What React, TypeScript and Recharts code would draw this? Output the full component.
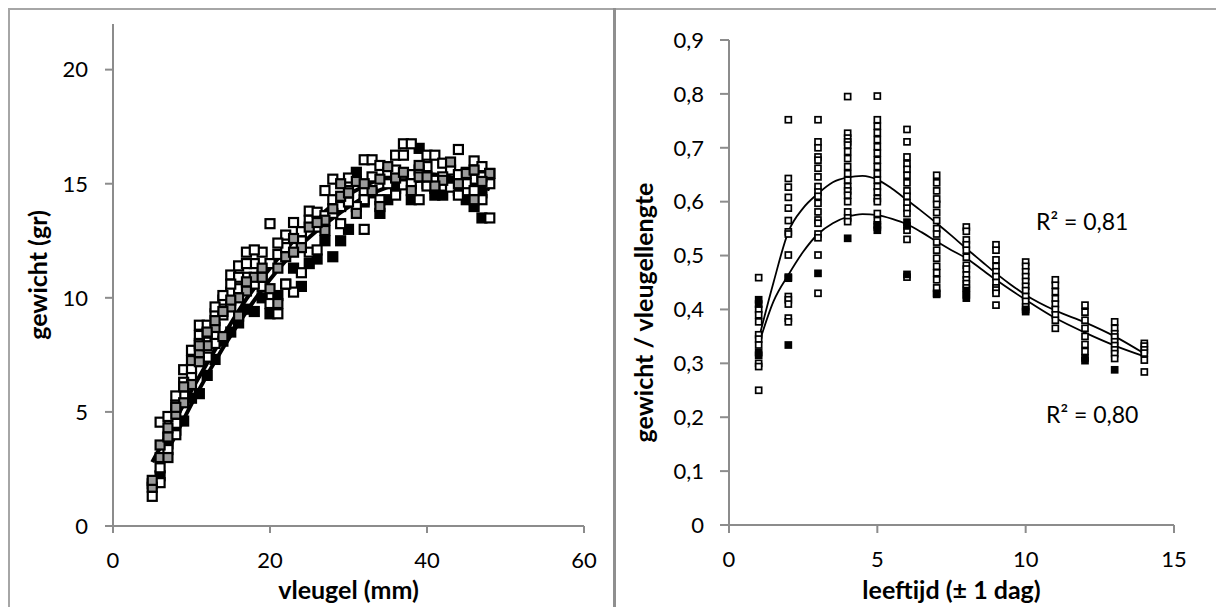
import { ComposedChart, Scatter, Line, XAxis, YAxis, Label } from "recharts";

const FONT = "Lato, 'Open Sans', sans-serif";
const AXIS_GREY = "#8c8c8c";

// ---- left panel: weight (g) against wing length (mm) ----
const wingOpen: [number, number][] = [
  [5, 1.3], [6, 1.9], [6, 2.55], [6, 4.55], [7, 3.35], [7, 3.85], [8, 4.5], [8, 5.3],
  [9, 6.05], [9, 6.85], [10, 6.55], [10, 7.7], [11, 8.35], [11, 8.8], [12, 8.8], [12, 8.45],
  [13, 9.3], [14, 9.25], [15, 10.25], [15, 11.0], [16, 10.4], [17, 10.9], [17, 12.0], [18, 11.5],
  [19, 12.0], [20, 9.75], [20, 13.25], [21, 9.3], [21, 11.9], [22, 12.75], [23, 10.25], [23, 13.3],
  [24, 11.1], [24, 12.5], [25, 13.8], [25, 13.4], [25, 12.0], [26, 13.75], [26, 12.1], [27, 14.7],
  [28, 14.3], [28, 15.2], [29, 13.25], [30, 15.25], [30, 14.7], [32, 16.05], [32, 14.7], [32, 14.3],
  [32, 13.0], [33, 16.05], [34, 15.8], [34, 14.3], [36, 16.25], [36, 14.5], [37, 16.75], [37, 16.25],
  [37, 14.95], [38, 16.75], [39, 14.3], [40, 16.25], [40, 15.75], [41, 15.15], [41, 16.25], [43, 14.85],
  [44, 16.5], [44, 14.5], [46, 16.0], [47, 15.75], [47, 14.3], [48, 15.0], [48, 13.5], [48, 15.45],
  [45, 15.5], [42, 15.9], [35, 15.5], [31, 14.0], [27, 13.6], [19, 10.5], [18, 12.1], [16, 11.4],
  [14, 9.9], [13, 8.0], [22, 10.6], [20, 11.5], [29, 14.0], [38, 15.4], [43, 15.6], [46, 15.2],
  [12, 7.4], [10, 6.9], [9, 5.7], [8, 4.0], [7, 4.8],
  [33, 15.3], [35, 15.0], [36, 15.6], [38, 15.0], [39, 15.6], [40, 14.9], [42, 15.3], [44, 15.4],
  [45, 15.0], [46, 14.7], [47, 15.3], [30, 14.2], [28, 13.7], [26, 13.1], [24, 12.9], [22, 12.2],
  [21, 12.4], [19, 11.0], [18, 10.6], [17, 11.5], [16, 10.9], [15, 10.6], [14, 10.1], [13, 9.6],
  [11, 8.0], [9, 6.3], [8, 5.7],
];
const wingGrey: [number, number][] = [
  [5, 1.7], [5, 2.0], [6, 3.0], [6, 3.55], [7, 3.0], [7, 4.3], [8, 4.9], [9, 5.4], [10, 6.2],
  [10, 7.25], [11, 7.2], [11, 7.6], [12, 7.9], [13, 8.7], [14, 8.3], [15, 9.6], [16, 9.2],
  [17, 10.3], [18, 10.9], [19, 11.3], [21, 11.3], [21, 9.75], [22, 11.8], [24, 12.2], [25, 13.1],
  [27, 12.95], [27, 13.4], [29, 14.45], [29, 15.0], [31, 13.7], [33, 14.7], [34, 14.0], [35, 15.75],
  [36, 15.25], [38, 14.7], [39, 15.3], [39, 15.8], [42, 15.15], [43, 15.95], [45, 15.45], [46, 14.3],
  [48, 15.45], [47, 15.1], [41, 14.9], [31, 15.1], [23, 12.0], [20, 10.4], [16, 10.0], [12, 8.5],
  [14, 9.4],
  [32, 15.0], [34, 15.2], [37, 15.5], [40, 15.3], [44, 15.0], [46, 15.6], [30, 14.6], [28, 13.9],
  [26, 13.3], [23, 12.6], [19, 10.9], [17, 10.7], [15, 9.9], [13, 9.0], [11, 7.9], [9, 6.1],
  [8, 5.2], [7, 3.9],
];
const wingBlack: [number, number][] = [
  [5, 1.85], [6, 2.2], [7, 3.6], [8, 4.2], [9, 4.6], [10, 5.6], [11, 5.8], [12, 6.6], [13, 7.3],
  [14, 8.1], [15, 8.5], [16, 8.9], [17, 9.5], [18, 9.4], [19, 10.0], [20, 9.3], [21, 10.1],
  [22, 10.6], [24, 10.5], [25, 11.5], [26, 11.7], [28, 11.8], [29, 12.5], [30, 13.0], [31, 15.5],
  [32, 14.2], [34, 13.7], [36, 14.8], [38, 14.3], [39, 16.55], [40, 15.0], [41, 14.8], [42, 14.5],
  [44, 14.7], [45, 14.3], [46, 14.0], [47, 13.5], [47, 14.6], [43, 15.0], [37, 15.0], [33, 14.6],
  [27, 12.5], [23, 11.3], [35, 14.3], [41, 14.5],
];

// polynomial trendlines, sampled
const wingFitUpperX = [5, 8, 11, 14, 17, 20, 23, 26, 29, 32, 35, 38, 41, 44, 46, 48];
const wingFitUpperY = [2.8, 4.7, 6.55, 8.3, 9.95, 11.3, 12.5, 13.5, 14.3, 14.9, 15.3, 15.45, 15.4, 15.2, 15.0, 14.75];
const wingFitLowerX = [5.5, 8, 11, 14, 17, 20, 23, 26, 29, 32, 35, 38, 41, 44, 46, 48];
const wingFitLowerY = [2.35, 4.0, 6.0, 7.8, 9.4, 10.8, 12.0, 12.95, 13.75, 14.4, 14.85, 15.1, 15.15, 15.05, 14.95, 14.8];

// ---- right panel: weight / wing length against age (days) ----
const days = [1, 2, 3, 4, 5, 6, 7, 8, 9, 10, 11, 12, 13, 14];
const ratioOpen: number[][] = [
  [0.459, 0.4, 0.39, 0.377, 0.353, 0.345, 0.334, 0.3, 0.294, 0.25],
  [0.752, 0.643, 0.627, 0.608, 0.588, 0.565, 0.544, 0.54, 0.501, 0.46, 0.424, 0.418, 0.41, 0.384, 0.377],
  [0.752, 0.711, 0.7, 0.683, 0.677, 0.662, 0.646, 0.628, 0.618, 0.61, 0.597, 0.581, 0.566, 0.56, 0.54, 0.533, 0.501, 0.43],
  [0.795, 0.727, 0.718, 0.711, 0.705, 0.693, 0.68, 0.665, 0.652, 0.64, 0.628, 0.62, 0.612, 0.6, 0.581, 0.57, 0.563],
  [0.796, 0.752, 0.74, 0.728, 0.715, 0.702, 0.69, 0.677, 0.665, 0.652, 0.64, 0.628, 0.618, 0.606, 0.6, 0.578, 0.565],
  [0.734, 0.711, 0.683, 0.67, 0.66, 0.649, 0.635, 0.62, 0.61, 0.598, 0.588, 0.578, 0.547, 0.53, 0.46],
  [0.649, 0.635, 0.62, 0.605, 0.595, 0.58, 0.565, 0.55, 0.54, 0.525, 0.51, 0.495, 0.48, 0.468, 0.455, 0.44, 0.43],
  [0.553, 0.545, 0.529, 0.52, 0.51, 0.497, 0.482, 0.475, 0.464, 0.455, 0.448, 0.44],
  [0.52, 0.51, 0.492, 0.48, 0.47, 0.461, 0.45, 0.44, 0.436, 0.43, 0.408],
  [0.488, 0.48, 0.47, 0.461, 0.452, 0.443, 0.435, 0.424, 0.415, 0.405],
  [0.455, 0.445, 0.433, 0.42, 0.41, 0.4, 0.39, 0.38, 0.365],
  [0.408, 0.395, 0.38, 0.365, 0.35, 0.335, 0.322],
  [0.377, 0.365, 0.355, 0.349, 0.34, 0.333, 0.325, 0.318, 0.309],
  [0.337, 0.332, 0.325, 0.319, 0.306, 0.284],
];
const ratioBlack: number[][] = [
  [0.418, 0.41, 0.32, 0.315],
  [0.458, 0.334],
  [0.467],
  [0.532],
  [0.557, 0.553, 0.547],
  [0.562, 0.555, 0.465],
  [0.428],
  [0.435, 0.427, 0.421],
  [],
  [0.4, 0.396],
  [],
  [0.31, 0.305],
  [0.288],
  [],
];

const ageFitX = [1, 1.5, 2, 2.5, 3, 3.5, 4, 4.5, 5, 5.5, 6, 6.5, 7, 7.5, 8, 8.5, 9, 9.5, 10, 11, 12, 13, 14];
const ageFitUpper = [0.345, 0.45, 0.544, 0.588, 0.615, 0.636, 0.645, 0.648, 0.641, 0.624, 0.603, 0.582, 0.56, 0.537, 0.513, 0.49, 0.467, 0.446, 0.427, 0.398, 0.376, 0.35, 0.318];
const ageFitLower = [0.335, 0.415, 0.464, 0.507, 0.54, 0.56, 0.572, 0.577, 0.575, 0.568, 0.558, 0.543, 0.526, 0.51, 0.495, 0.475, 0.455, 0.436, 0.418, 0.384, 0.357, 0.333, 0.313];

const wingTicksX = [0, 20, 40, 60];
const wingTicksY = [0, 5, 10, 15, 20];
const ageTicksX = [0, 5, 10, 15];
const ratioTicksY = [0, 0.1, 0.2, 0.3, 0.4, 0.5, 0.6, 0.7, 0.8, 0.9];

const pairs = (list: [number, number][]) => list.map(([x, y]) => ({ x, y }));
const zipXY = (xs: number[], ys: number[]) => xs.map((x, i) => ({ x, y: ys[i] }));
const byDay = (cols: number[][]) =>
  cols.flatMap((vals, i) => vals.map((y) => ({ x: days[i], y })));

const commaDecimal = (v: number) => (v === 0 ? "0" : v.toFixed(1).replace(".", ","));

const tickStyle = { fill: "#000", fontSize: 22, fontFamily: FONT };
const titleStyle = { fill: "#000", fontSize: 25, fontWeight: 700, fontFamily: FONT };

function squareShape(size: number, stroke: number, fill: string) {
  return (props: any) => {
    const { cx, cy } = props;
    if (cx == null || cy == null) return <g />;
    return (
      <rect
        x={cx - size / 2}
        y={cy - size / 2}
        width={size}
        height={size}
        fill={fill}
        stroke="#000"
        strokeWidth={stroke}
      />
    );
  };
}

function WingChart() {
  return (
    <ComposedChart width={608} height={607} margin={{ top: 24, right: 24, bottom: 0, left: 0 }}>
      <XAxis
        type="number"
        dataKey="x"
        domain={[0, 60]}
        ticks={wingTicksX}
        height={81}
        tick={tickStyle}
        tickSize={7}
        tickMargin={19}
        axisLine={{ stroke: AXIS_GREY, strokeWidth: 2 }}
        tickLine={{ stroke: AXIS_GREY, strokeWidth: 2 }}
        allowDataOverflow
      >
        <Label value="vleugel (mm)" position="center" dy={24} style={titleStyle} />
      </XAxis>
      <YAxis
        type="number"
        dataKey="y"
        domain={[0, 22]}
        ticks={wingTicksY}
        width={113}
        tick={tickStyle}
        tickSize={8}
        tickMargin={17}
        axisLine={{ stroke: AXIS_GREY, strokeWidth: 2 }}
        tickLine={{ stroke: AXIS_GREY, strokeWidth: 2 }}
        allowDataOverflow
      >
        <Label value="gewicht (gr)" position="center" angle={-90} dx={-18} style={titleStyle} />
      </YAxis>
      <Scatter data={pairs(wingBlack)} shape={squareShape(9, 2.2, "#000")} isAnimationActive={false} />
      <Scatter data={pairs(wingOpen)} shape={squareShape(9, 2.2, "#fff")} isAnimationActive={false} />
      <Scatter data={pairs(wingGrey)} shape={squareShape(9, 2.2, "#9a9a9a")} isAnimationActive={false} />
      <Line
        data={zipXY(wingFitUpperX, wingFitUpperY)}
        dataKey="y"
        type="monotone"
        stroke="#000"
        strokeWidth={4}
        dot={false}
        activeDot={false}
        isAnimationActive={false}
      />
      <Line
        data={zipXY(wingFitLowerX, wingFitLowerY)}
        dataKey="y"
        type="monotone"
        stroke="#000"
        strokeWidth={4}
        dot={false}
        activeDot={false}
        isAnimationActive={false}
      />
    </ComposedChart>
  );
}

function RatioChart() {
  return (
    <ComposedChart width={600} height={607} margin={{ top: 40, right: 42, bottom: 0, left: 0 }}>
      <XAxis
        type="number"
        dataKey="x"
        domain={[0, 15]}
        ticks={ageTicksX}
        height={82}
        tick={tickStyle}
        tickSize={8}
        tickMargin={18}
        axisLine={{ stroke: AXIS_GREY, strokeWidth: 2 }}
        tickLine={{ stroke: AXIS_GREY, strokeWidth: 2 }}
        allowDataOverflow
      >
        <Label value="leeftijd (± 1 dag)" position="center" dy={24} style={titleStyle} />
      </XAxis>
      <YAxis
        type="number"
        dataKey="y"
        domain={[0, 0.9]}
        ticks={ratioTicksY}
        tickFormatter={commaDecimal}
        width={113}
        tick={tickStyle}
        tickSize={9}
        tickMargin={16}
        axisLine={{ stroke: AXIS_GREY, strokeWidth: 2 }}
        tickLine={{ stroke: AXIS_GREY, strokeWidth: 2 }}
        allowDataOverflow
      >
        <Label value="gewicht / vleugellengte" position="center" angle={-90} dx={-28} dy={30} style={titleStyle} />
      </YAxis>
      <Scatter data={byDay(ratioOpen)} shape={squareShape(6, 1.7, "#fff")} isAnimationActive={false} />
      <Scatter data={byDay(ratioBlack)} shape={squareShape(6, 1.7, "#000")} isAnimationActive={false} />
      <Line
        data={zipXY(ageFitX, ageFitUpper)}
        dataKey="y"
        type="monotone"
        stroke="#000"
        strokeWidth={1.8}
        dot={false}
        activeDot={false}
        isAnimationActive={false}
      />
      <Line
        data={zipXY(ageFitX, ageFitLower)}
        dataKey="y"
        type="monotone"
        stroke="#000"
        strokeWidth={1.8}
        dot={false}
        activeDot={false}
        isAnimationActive={false}
      />
    </ComposedChart>
  );
}

const rSquaredStyle: React.CSSProperties = {
  position: "absolute",
  fontFamily: FONT,
  fontSize: 23,
  lineHeight: "23px",
  color: "#000",
  whiteSpace: "nowrap",
};

export default function App() {
  return (
    <div
      style={{
        position: "absolute",
        left: 0,
        top: 0,
        width: 1216,
        height: 607,
        background: "#fff",
        overflow: "hidden",
      }}
    >
      {/* panel frames */}
      <div style={{ position: "absolute", left: 8, top: 8, width: 1208, height: 2, background: "#a6a6a6" }} />
      <div style={{ position: "absolute", left: 8, top: 8, width: 2, height: 599, background: "#a6a6a6" }} />
      <div style={{ position: "absolute", left: 613, top: 8, width: 3, height: 599, background: "#8f8f8f" }} />

      <div style={{ position: "absolute", left: 0, top: 0 }}>
        <WingChart />
      </div>
      <div style={{ position: "absolute", left: 616, top: 0 }}>
        <RatioChart />
      </div>

      <div style={{ ...rSquaredStyle, left: 1036, top: 210 }}>R² = 0,81</div>
      <div style={{ ...rSquaredStyle, left: 1046, top: 403 }}>R² = 0,80</div>
    </div>
  );
}
